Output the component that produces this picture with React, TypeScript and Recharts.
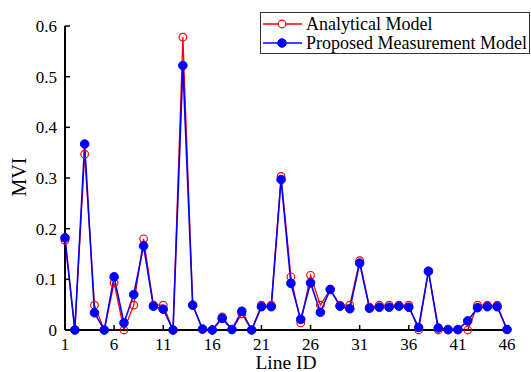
import React from 'react';
import { LineChart, Line, XAxis, YAxis } from 'recharts';

const lineIds = [1, 2, 3, 4, 5, 6, 7, 8, 9, 10, 11, 12, 13, 14, 15, 16, 17, 18, 19, 20, 21, 22, 23, 24, 25, 26, 27, 28, 29, 30, 31, 32, 33, 34, 35, 36, 37, 38, 39, 40, 41, 42, 43, 44, 45, 46];
const analyticalModel = [0.177, 0, 0.347, 0.049, 0, 0.093, 0, 0.049, 0.18, 0.049, 0.049, 0, 0.578, 0.049, 0.001, 0, 0.026, 0.001, 0.032, 0, 0.049, 0.049, 0.303, 0.105, 0.014, 0.108, 0.049, 0.08, 0.049, 0.049, 0.137, 0.045, 0.049, 0.049, 0.049, 0.049, 0, 0.116, 0, 0, 0, 0, 0.049, 0.049, 0.049, 0.001];
const proposedModel = [0.182, 0, 0.367, 0.034, 0, 0.105, 0.014, 0.07, 0.166, 0.047, 0.041, 0, 0.522, 0.049, 0.002, 0, 0.023, 0.001, 0.037, 0, 0.046, 0.046, 0.297, 0.092, 0.021, 0.093, 0.035, 0.08, 0.047, 0.042, 0.132, 0.043, 0.045, 0.045, 0.047, 0.045, 0.005, 0.116, 0.004, 0.001, 0.001, 0.018, 0.044, 0.046, 0.046, 0.001];
const xTicks = [1, 6, 11, 16, 21, 26, 31, 36, 41, 46];
const yTicks = [0, 0.1, 0.2, 0.3, 0.4, 0.5, 0.6];
const seriesNames = ['Analytical Model', 'Proposed Measurement Model'];
const seriesColors = ['#ff0000', '#0000ff'];
const xLabel = 'Line ID';
const yLabel = 'MVI';

const data = lineIds.map((id, i) => ({ id, analytical: analyticalModel[i], proposed: proposedModel[i] }));

const FONT = '"Liberation Serif", "Times New Roman", serif';

function LegendBox() {
  return (
    <svg width={271} height={43} style={{ display: 'block' }}>
      <rect x={0.5} y={0.5} width={269} height={41} fill="#fff" stroke="#333" strokeWidth={1} />
      {seriesNames.map((name, i) => {
        const cy = 12 + i * 19;
        return (
          <g key={name}>
            <line x1={3} x2={42} y1={cy} y2={cy} stroke={seriesColors[i]} strokeWidth={1.3} />
            {i === 0 ? (
              <circle cx={22} cy={cy} r={3.8} fill="#fff" stroke={seriesColors[i]} strokeWidth={1.2} />
            ) : (
              <circle cx={22} cy={cy} r={4.3} fill={seriesColors[i]} stroke={seriesColors[i]} />
            )}
            <text x={46} y={cy + 5.5} fontSize={18} fontFamily={FONT} fill="#000">{name}</text>
          </g>
        );
      })}
    </svg>
  );
}

export default function App() {
  return (
    <div style={{ position: 'absolute', left: 0, top: 0, width: 531, height: 372, background: '#fff', fontFamily: FONT }}>
      <LineChart width={531} height={372} data={data} margin={{ top: 26, right: 24, bottom: 0, left: 0 }} style={{ fontFamily: FONT }}>
        <XAxis
          dataKey="id"
          type="number"
          domain={[1, 46]}
          ticks={xTicks}
          interval={0}
          height={42}
          tickSize={-5}
          tickMargin={13}
          axisLine={{ stroke: '#000', strokeWidth: 2 }}
          tickLine={{ stroke: '#000', strokeWidth: 1.5 }}
          tick={{ fill: '#000', fontSize: 17, fontFamily: FONT }}
          label={{
            content: () => (
              <text x={286} y={369} textAnchor="middle" fontSize={19.5} fontFamily={FONT} fill="#000">{xLabel}</text>
            ),
          }}
        />
        <YAxis
          type="number"
          domain={[0, 0.6]}
          ticks={yTicks}
          interval={0}
          width={65}
          tickSize={-5}
          tickMargin={13}
          axisLine={{ stroke: '#000', strokeWidth: 2 }}
          tickLine={{ stroke: '#000', strokeWidth: 1.5 }}
          tick={{ fill: '#000', fontSize: 17, fontFamily: FONT }}
          tickFormatter={(v: number) => String(v)}
          label={{
            content: () => (
              <text x={18.5} y={177} transform="rotate(-90 18.5 177)" textAnchor="middle" dominantBaseline="central" fontSize={20} fontFamily={FONT} fill="#000">{yLabel}</text>
            ),
          }}
        />
        <Line
          type="linear"
          dataKey="analytical"
          name={seriesNames[0]}
          stroke={seriesColors[0]}
          strokeWidth={1.3}
          dot={{ r: 3.8, fill: 'none', stroke: seriesColors[0], strokeWidth: 1.2 }}
          isAnimationActive={false}
        />
        <Line
          type="linear"
          dataKey="proposed"
          name={seriesNames[1]}
          stroke={seriesColors[1]}
          strokeWidth={1.6}
          dot={{ r: 4.3, fill: seriesColors[1], stroke: seriesColors[1], strokeWidth: 1 }}
          isAnimationActive={false}
        />
      </LineChart>
      <div style={{ position: 'absolute', left: 260, top: 12 }}>
        <LegendBox />
      </div>
    </div>
  );
}
